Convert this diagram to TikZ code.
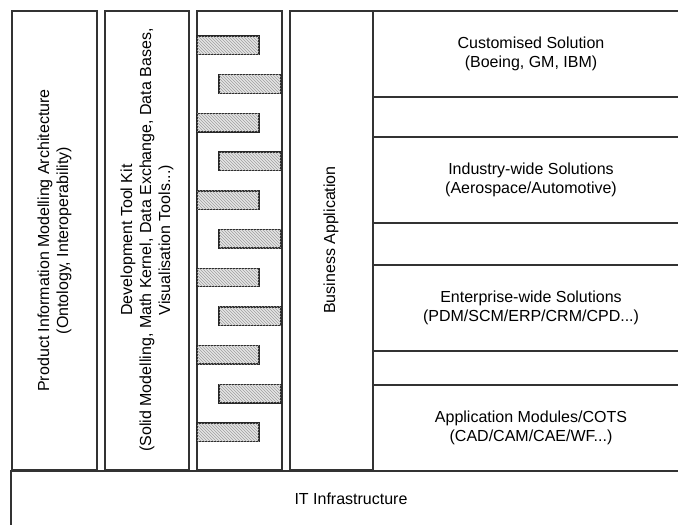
\documentclass[tikz,border=0pt]{standalone}
\usepackage{fontspec}
\setmainfont{Liberation Sans}
\usepackage{tikz}
\usetikzlibrary{calc,patterns}
\usepackage{xcolor}

\begin{document}
\begin{tikzpicture}[x=1pt,y=-1pt]
  \useasboundingbox (0,0) rectangle (678,525);
  \tikzstyle{layer}=[draw=black!80, line width=1.4pt]
  \tikzstyle{bar}=[draw=black!85, line width=1.4pt, fill=gray!20,
    postaction={pattern=north west lines, pattern color=gray!75}]
  \tikzstyle{every node}=[font=\fontsize{16}{19}\selectfont, align=center, inner sep=0pt]
  % columns
  \coordinate (cA) at (12,11);
  \coordinate (cB) at (105,11);
  \coordinate (cC) at (197,11);
  \coordinate (cD) at (290,11);
  \foreach \c/\w in {A/85,B/84,C/85,D/83}{
    \draw[layer] (c\c) rectangle ($(c\c)+(\w,459)$);
  }
  % solution stack
  \draw[layer] (373,11) rectangle (690,471);
  \foreach \y in {97,137,223,265,351,385}{
    \draw[layer] (373,\y) -- (690,\y);
  }
  % base
  \draw[layer] (11,471) rectangle (690,527);
  % interface bars
  \foreach \i in {0,2,...,10}{
    \draw[bar] (197,36+38.7*\i) rectangle (259,54.5+38.7*\i);
  }
  \foreach \i in {1,3,...,9}{
    \draw[bar] (219,36+38.7*\i) rectangle (281,54.5+38.7*\i);
  }
  \node[rotate=90] (pima) at (54.5,240.5)
    {Product Information Modelling Architecture\\(Ontology, Interoperability)};
  \node[rotate=90] (dtk) at (147,240)
    {Development Tool Kit\\(Solid Modelling, Math Kernel, Data Exchange, Data Bases,\\Visualisation Tools...)};
  \node[rotate=90] (busapp) at (331,240) {Business Application};
  \node (custom) at (531,54) {Customised Solution\\(Boeing, GM, IBM)};
  \node (industry) at (531,180) {Industry-wide Solutions\\(Aerospace/Automotive)};
  \node (enterprise) at (531,308) {Enterprise-wide Solutions\\(PDM/SCM/ERP/CRM/CPD...)};
  \node (modules) at (531,428) {Application Modules/COTS\\(CAD/CAM/CAE/WF...)};
  \node (infra) at (351,499) {IT Infrastructure};
\end{tikzpicture}
\end{document}
